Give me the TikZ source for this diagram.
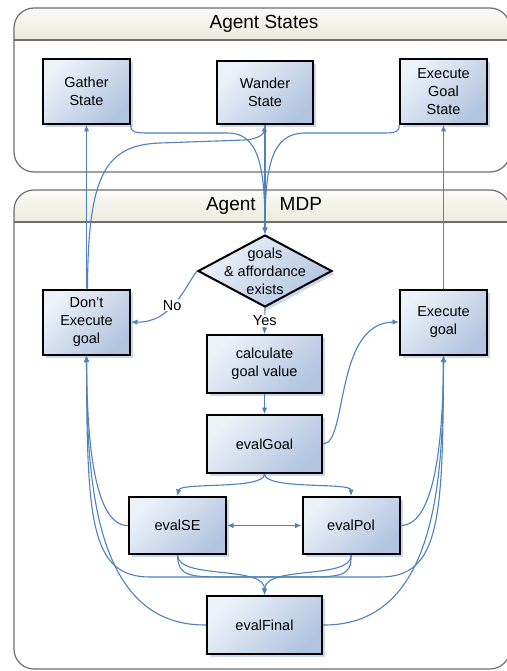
\documentclass[tikz,border=0pt]{standalone}
\usepackage{fontspec}
\setmainfont{Liberation Sans}
\usetikzlibrary{shapes.geometric,shadows,arrows.meta}
\definecolor{flowblue}{HTML}{4F81BD}
\definecolor{boxlight}{HTML}{EDF2F9}
\definecolor{boxdark}{HTML}{B2C5E0}
\definecolor{boxshadow}{HTML}{CCD8EC}
\definecolor{panelline}{HTML}{6E6E6E}
\definecolor{headlight}{HTML}{FBFBF8}
\definecolor{headdark}{HTML}{EBEBDD}

\begin{document}
\begin{tikzpicture}[%
  x=1pt, y=-1pt,
  every node/.style={font=\fontsize{14.5}{18}\selectfont},
  state/.style={draw=black, line width=2pt, rectangle, align=center,
    left color=boxlight, right color=boxdark, shading angle=45,
    drop shadow={shadow xshift=3pt, shadow yshift=-3pt, fill=boxshadow, opacity=1},
    minimum width=87pt, minimum height=65pt, inner sep=2pt},
  wide/.style={state, minimum width=115pt, minimum height=58pt},
  mid/.style={state, minimum width=97pt, minimum height=57pt},
  test/.style={state, diamond, minimum width=134pt, minimum height=72pt, inner sep=0pt},
  panel/.style={draw=panelline, line width=1.2pt, rounded corners=20pt},
  header/.style={font=\fontsize{19}{22}\selectfont},
  tlabel/.style={fill=white, inner sep=1pt},
  flow/.style={draw=flowblue, line width=1.1pt, -{Latex[length=6.5pt,width=5.5pt]}}]
\useasboundingbox (0,0) rectangle (506,671);

% the two panels
\begin{scope}
  \clip[rounded corners=20pt] (14,8) rectangle (510,172);
  \fill[white] (14,8) rectangle (510,172);
  \shade[top color=headlight, bottom color=headdark] (14,8) rectangle (510,40);
\end{scope}
\draw[panel] (14,8) rectangle (510,172);
\draw[panelline, line width=1.2pt] (14,40) -- (510,40);
\node[header] (statetitle) at (264,24) {Agent States};

\begin{scope}
  \clip[rounded corners=20pt] (14,190) rectangle (510,669);
  \fill[white] (14,190) rectangle (510,669);
  \shade[top color=headlight, bottom color=headdark] (14,190) rectangle (510,222);
\end{scope}
\draw[panel] (14,190) rectangle (510,669);
\draw[panelline, line width=1.2pt] (14,222) -- (510,222);
\node[header] (mdptitle) at (264,206) {Agent\hspace{24pt}MDP};

% states
\node[state] (gather) at (86.5,91.5) {Gather\\State};
\node[state, minimum width=96pt, minimum height=63pt] (wander) at (265,92.5) {Wander\\State};
\node[state] (goalstate) at (443.5,91.5) {Execute\\Goal\\State};

% mdp
\node[test] (affd) at (265,271) {};
\node[align=center] (affdtext) at (affd.center) {goals\\\& affordance\\exists};
\node[state] (noexec) at (86.5,322) {Don’t\\Execute\\goal};
\node[state] (exec) at (443.5,322) {Execute\\goal};
\node[wide] (calc) at (264.5,364) {calculate\\goal value};
\node[wide] (evalgoal) at (264.5,444) {evalGoal};
\node[mid] (evalse) at (177.5,525.5) {evalSE};
\node[mid] (evalpol) at (351,525.5) {evalPol};
\node[wide] (evalfinal) at (264.5,625) {evalFinal};

% up to the agent states
\draw[flow] (noexec.north) -- (gather.south);
\draw[flow] (exec.north) -- (goalstate.south);
\draw[flow] ([xshift=1pt]noexec.north) .. controls (88,175) and (105,145) .. (160,143)
  -- (245,140) .. controls (258,139) and (264,134) .. (wander.south);

% back down to the test
\draw[flow] (gather.south east) .. controls (130,132) and (135,133) .. (148,133)
  -- (228,133) .. controls (258,133) and (265,165) .. (affd.north);
\draw[flow] (goalstate.south west) .. controls (400,132) and (395,133) .. (383,133)
  -- (305,133) .. controls (272,133) and (265,165) .. (affd.north);
\draw[flow] (wander.south) -- (affd.north);

% test outcomes
\draw[flow] (affd.west) .. controls (186,285) and (172,323) .. node[tlabel, pos=.55] {No} (noexec.east);
\draw[flow] (affd.south) -- node[tlabel] {Yes} (calc.north);
\draw[flow] (calc.south) -- (evalgoal.north);
\draw[flow] (evalgoal.east) .. controls (348,444) and (334,323) .. (exec.west);
\draw[flow] (evalgoal.south) .. controls (265,490) and (180,482) .. (evalse.north);
\draw[flow] (evalgoal.south) .. controls (265,490) and (351,482) .. (evalpol.north);
\draw[flow, {Latex[length=6.5pt,width=5.5pt]}-{Latex[length=6.5pt,width=5.5pt]}] (evalse.east) -- (evalpol.west);

% results
\draw[flow] (evalse.west) .. controls (92,526) and (87,430) .. (noexec.south);
\draw[flow] (evalpol.east) .. controls (437,526) and (443,430) .. (exec.south);
\draw[flow] (evalfinal.west) .. controls (90,626) and (87,470) .. (noexec.south);
\draw[flow] (evalfinal.east) .. controls (440,626) and (443,470) .. (exec.south);
\draw[flow] (evalse.south) .. controls (178,577) and (190,577) .. (230,577)
  -- (380,577) .. controls (440,577) and (443,520) .. (exec.south);
\draw[flow] (evalpol.south) .. controls (352,577) and (340,577) .. (300,577)
  -- (150,577) .. controls (90,577) and (87,520) .. (noexec.south);
\draw[flow] (evalse.south) .. controls (178,580) and (265,565) .. (evalfinal.north);
\draw[flow] (evalpol.south) .. controls (352,580) and (265,565) .. (evalfinal.north);
\end{tikzpicture}
\end{document}
